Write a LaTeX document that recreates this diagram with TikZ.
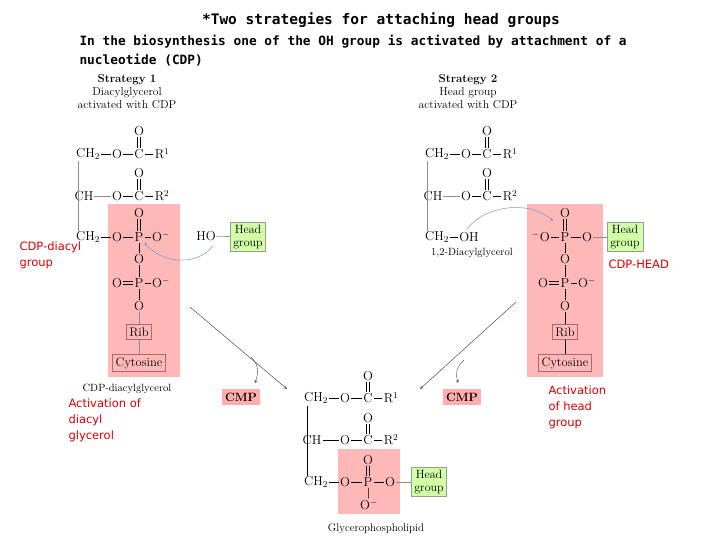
\documentclass[tikz,border=0pt]{standalone}
\usepackage{fontspec}
\newfontfamily\monof{DejaVu Sans Mono}
\newfontfamily\redf{DejaVu Sans}
\newcommand\vdbl[2]{\draw[bd] ([xshift=-1.4pt]#1.south)--([xshift=-1.4pt]#2.north); \draw[bd] ([xshift=1.4pt]#1.south)--([xshift=1.4pt]#2.north);}
\newcommand\hdbl[2]{\draw[bd] ([yshift=-1.4pt]#1.east)--([yshift=-1.4pt]#2.west); \draw[bd] ([yshift=1.4pt]#1.east)--([yshift=1.4pt]#2.west);}
\begin{document}
\begin{tikzpicture}[x=1pt,y=-1pt,
  atm/.style={inner sep=0.8pt,font=\fontsize{13}{13}\selectfont},
  bd/.style={draw=black,line width=0.5pt,shorten <=0.5pt,shorten >=0.5pt},
  gl/.style={draw=black!45,line width=0.6pt},
  pinkbg/.style={fill=red!28,draw=none},
  grn/.style={fill=green!50!yellow!35,draw=black!40,font=\fontsize{12}{12.5}\selectfont,align=center,inner sep=3pt,line width=0.4pt},
  pbox/.style={draw=red!50!black!60,fill=red!28,font=\fontsize{12.5}{12.5}\selectfont,inner sep=3pt,line width=0.4pt},
  cmp/.style={fill=red!32,font=\fontsize{12}{12}\selectfont\bfseries,inner sep=3.5pt},
  lbl/.style={font=\fontsize{11.5}{13}\selectfont,align=center},
  redt/.style={text=red!85!black,font=\redf\fontsize{11.5}{16}\selectfont,align=left,anchor=north west},
  rx/.style={draw=black!70,line width=0.5pt},
  blu/.style={draw=cyan!50!blue!60,line width=0.5pt,->,>=stealth},
]
\useasboundingbox (0,0) rectangle (720,540);
\fill[white] (0,0) rectangle (720,540);
% titles
\node[font=\monof\bfseries\fontsize{14.5}{15}\selectfont] (t1) at (381,20) {*Two strategies for attaching head groups};
\node[font=\monof\bfseries\fontsize{12.8}{19}\selectfont,align=left,anchor=north west] (t2) at (76,32) {In the biosynthesis one of the OH group is activated by attachment of a\\nucleotide (CDP)};
% strategy labels
\node[lbl] (s1) at (127,92) {\textbf{Strategy 1}\\Diacylglycerol\\activated with CDP};
\node[lbl] (s2) at (468,92) {\textbf{Strategy 2}\\Head group\\activated with CDP};

% ===== left molecule =====
\fill[pinkbg] (108,204) rectangle (180,377);
\node[atm] (la1) at (88,154) {CH$_2$};
\node[atm] (la2) at (117,154) {O};
\node[atm] (la3) at (139,154) {C};
\node[atm] (la4) at (162,154) {R$^1$};
\node[atm] (la5) at (139,131) {O};
\node[atm] (lb1) at (84,196) {CH};
\node[atm] (lb2) at (117,196) {O};
\node[atm] (lb3) at (139,196) {C};
\node[atm] (lb4) at (162,196) {R$^2$};
\node[atm] (lb5) at (139,173) {O};
\node[atm] (lc1) at (88,237) {CH$_2$};
\node[atm] (lc2) at (117,237) {O};
\node[atm] (lc3) at (139,237) {P};
\node[atm] (lc4) at (161,237) {O$^-$};
\node[atm] (lc5) at (139,213) {O};
\node[atm] (ld1) at (139,259) {O};
\node[atm] (le1) at (117,283) {O};
\node[atm] (le2) at (139,283) {P};
\node[atm] (le3) at (161,283) {O$^-$};
\node[atm] (lf1) at (139,306) {O};
\node[pbox] (lrib) at (139,332) {Rib};
\node[pbox] (lcyt) at (139,363) {Cytosine};
\draw[bd] (la1)--(la2); \draw[bd] (la2)--(la3); \draw[bd] (la3)--(la4);
\draw[bd] (lb2)--(lb3); \draw[bd] (lb3)--(lb4); \draw[gl] (lb1)--(lb2);
\draw[bd] (lc1)--(lc2); \draw[bd] (lc2)--(lc3); \draw[bd] (lc3)--(lc4);
\draw[bd] (le2)--(le3);
\vdbl{la5}{la3} \vdbl{lb5}{lb3} \vdbl{lc5}{lc3} \hdbl{le1}{le2}
\draw[bd] (lc3)--(ld1); \draw[bd] (ld1)--(le2); \draw[bd] (le2)--(lf1);
\draw[gl] (lf1)--(lrib); \draw[gl] (lrib)--(lcyt);
\draw[gl] (78,161)--(78,231);
\node[atm] (lho) at (206,236) {HO};
\node[grn] (lhg) at (248,237) {Head\\group};
\draw[gl] (lho)--(lhg);
\draw[blu] (213,246) .. controls (195,268) and (160,262) .. (lc3.south east);
\node[lbl,font=\fontsize{10.5}{10}\selectfont] (lname) at (127,389) {CDP-diacylglycerol};
\node[redt] (r1) at (16,238) {CDP-diacyl\\group};
\node[redt] (r2) at (65,395) {Activation of\\diacyl\\glycerol};

% ===== right molecule =====
\fill[pinkbg] (527,204) rectangle (603,377);
\node[atm] (ra1) at (437,154) {CH$_2$};
\node[atm] (ra2) at (466,154) {O};
\node[atm] (ra3) at (487,154) {C};
\node[atm] (ra4) at (510,154) {R$^1$};
\node[atm] (ra5) at (487,131) {O};
\node[atm] (rb1) at (433,196) {CH};
\node[atm] (rb2) at (466,196) {O};
\node[atm] (rb3) at (487,196) {C};
\node[atm] (rb4) at (510,196) {R$^2$};
\node[atm] (rb5) at (487,173) {O};
\node[atm] (rc1) at (437,237) {CH$_2$};
\node[atm] (rc2) at (469,237) {OH};
\node[lbl,font=\fontsize{10.5}{10}\selectfont] (rname) at (472,253) {1,2-Diacylglycerol};
\node[atm] (rp1) at (541,237) {$^-$O};
\node[atm] (rp2) at (565,237) {P};
\node[atm] (rp3) at (587,237) {O};
\node[atm] (rp5) at (565,213) {O};
\node[atm] (rd1) at (565,259) {O};
\node[atm] (re1) at (543,283) {O};
\node[atm] (re2) at (565,283) {P};
\node[atm] (re3) at (587,283) {O$^-$};
\node[atm] (rf1) at (565,306) {O};
\node[pbox] (rrib) at (565,332) {Rib};
\node[pbox] (rcyt) at (565,363) {Cytosine};
\node[grn] (rhg) at (625,237) {Head\\group};
\draw[bd] (ra1)--(ra2); \draw[bd] (ra2)--(ra3); \draw[bd] (ra3)--(ra4);
\draw[bd] (rb2)--(rb3); \draw[bd] (rb3)--(rb4); \draw[gl] (rb1)--(rb2);
\draw[bd] (rc1)--(rc2);
\draw[bd] (rp1)--(rp2); \draw[bd] (rp2)--(rp3); \draw[gl] (rp3)--(rhg);
\draw[bd] (re2)--(re3);
\vdbl{ra5}{ra3} \vdbl{rb5}{rb3} \vdbl{rp5}{rp2} \hdbl{re1}{re2}
\draw[bd] (rp2)--(rd1); \draw[bd] (rd1)--(re2); \draw[bd] (re2)--(rf1);
\draw[bd] (rf1)--(rrib); \draw[bd] (rrib)--(rcyt);
\draw[gl] (427,161)--(427,231);
\draw[blu] (467,229) .. controls (485,205) and (530,200) .. (553,221);
\node[redt] (r3) at (605,256) {CDP-HEAD};
\node[redt] (r4) at (545,382) {Activation\\of head\\group};

% ===== reaction arrows =====
\coordinate (a1s) at (190,307); \coordinate (a1e) at (287,389);
\draw[rx,->,>=stealth] (a1s)--(a1e);
\node[cmp] (cmpl) at (241,397) {CMP};
\draw[rx,->,>=stealth,line width=0.4pt] (251,357) .. controls (260,366) and (258,374) .. (255,383);
\coordinate (a2s) at (516,302); \coordinate (a2e) at (420,389);
\draw[rx,->,>=stealth] (a2s)--(a2e);
\node[cmp] (cmpr) at (462,397) {CMP};
\draw[rx,->,>=stealth,line width=0.4pt] (464,360) .. controls (455,368) and (456,375) .. (458,383);

% ===== bottom molecule =====
\fill[pinkbg] (338,449) rectangle (400,514);
\node[atm] (ba1) at (316,398) {CH$_2$};
\node[atm] (ba2) at (345,398) {O};
\node[atm] (ba3) at (368,398) {C};
\node[atm] (ba4) at (391,398) {R$^1$};
\node[atm] (ba5) at (368,376) {O};
\node[atm] (bb1) at (312,440) {CH};
\node[atm] (bb2) at (345,440) {O};
\node[atm] (bb3) at (368,440) {C};
\node[atm] (bb4) at (391,440) {R$^2$};
\node[atm] (bb5) at (368,418) {O};
\node[atm] (bc1) at (316,482) {CH$_2$};
\node[atm] (bc2) at (345,482) {O};
\node[atm] (bc3) at (368,482) {P};
\node[atm] (bc4) at (390,482) {O};
\node[atm] (bc5) at (368,460) {O};
\node[atm] (bc6) at (369,505) {O$^-$};
\node[grn] (bhg) at (429,482) {Head\\group};
\draw[bd] (ba1)--(ba2); \draw[bd] (ba2)--(ba3); \draw[bd] (ba3)--(ba4);
\draw[bd] (bb1)--(bb2); \draw[bd] (bb2)--(bb3); \draw[bd] (bb3)--(bb4);
\draw[bd] (bc1)--(bc2); \draw[bd] (bc2)--(bc3); \draw[bd] (bc3)--(bc4);
\draw[gl] (bc4)--(bhg);
\draw[bd] (bc3)--(bc6);
\vdbl{ba5}{ba3} \vdbl{bb5}{bb3} \vdbl{bc5}{bc3}
\draw[bd] (307,405)--(307,476);
\node[lbl,font=\fontsize{11}{10}\selectfont] (bname) at (376,529) {Glycerophospholipid};
\end{tikzpicture}
\end{document}
